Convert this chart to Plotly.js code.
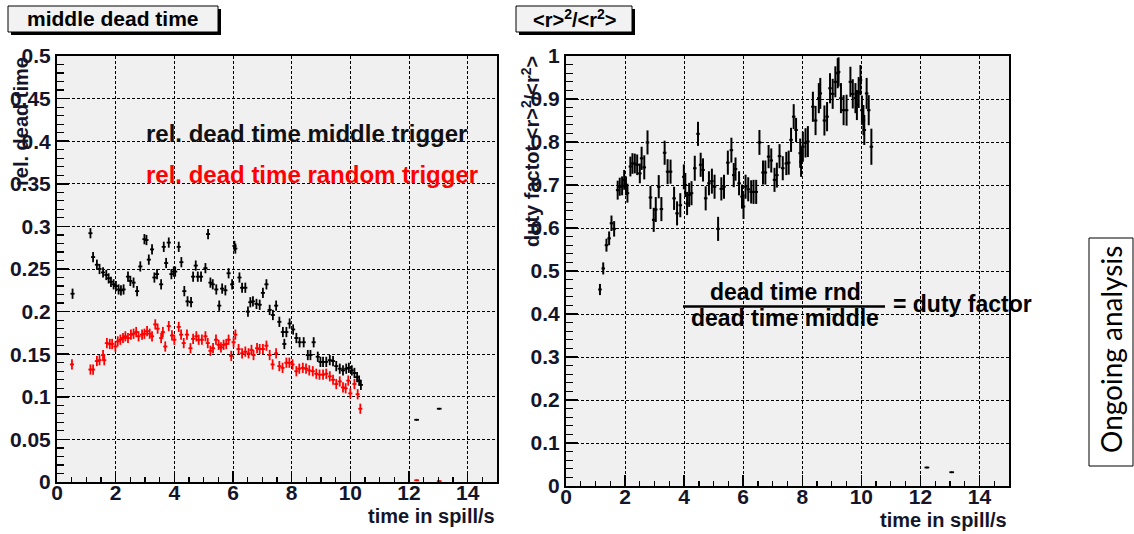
<!DOCTYPE html>
<html>
<head>
<meta charset="utf-8">
<script src="https://cdn.plot.ly/plotly-3.0.1.min.js"></script>
<style>
  html, body { margin: 0; padding: 0; background: #ffffff; }
  #chart { width: 1134px; height: 534px; }
</style>
</head>
<body>
<div id="chart"></div>
<script>
// Relative dead time, middle trigger (black)
const midX = [0.53,1.14,1.23,1.36,1.45,1.57,1.68,1.76,1.84,1.93,2.01,2.10,2.18,2.27,2.42,2.50,2.61,2.73,2.84,2.98,3.05,3.13,3.24,3.32,3.41,3.55,3.64,3.72,3.81,3.90,3.98,4.03,4.15,4.24,4.34,4.45,4.57,4.64,4.73,4.80,4.91,5.06,5.15,5.23,5.31,5.43,5.53,5.63,5.74,5.85,5.97,6.05,6.08,6.22,6.31,6.42,6.51,6.59,6.68,6.80,6.91,7.02,7.14,7.25,7.36,7.47,7.58,7.70,7.75,7.82,7.93,8.05,8.16,8.27,8.41,8.55,8.64,8.75,8.89,8.98,9.07,9.18,9.30,9.41,9.52,9.64,9.75,9.86,9.95,10.05,10.14,10.23,10.30,10.36];
const midY = [0.221,0.292,0.264,0.255,0.250,0.246,0.243,0.239,0.235,0.232,0.230,0.226,0.225,0.226,0.241,0.236,0.234,0.224,0.253,0.285,0.284,0.261,0.273,0.240,0.244,0.232,0.276,0.257,0.281,0.244,0.247,0.247,0.276,0.258,0.224,0.212,0.211,0.241,0.254,0.241,0.241,0.251,0.291,0.234,0.232,0.226,0.207,0.227,0.225,0.245,0.232,0.277,0.274,0.240,0.228,0.228,0.200,0.211,0.212,0.209,0.208,0.222,0.232,0.202,0.196,0.207,0.188,0.176,0.162,0.176,0.186,0.179,0.169,0.164,0.164,0.149,0.149,0.164,0.147,0.141,0.141,0.141,0.143,0.142,0.136,0.133,0.131,0.133,0.134,0.131,0.128,0.123,0.119,0.114];
const midTailX = [12.26, 13.03];
const midTailY = [0.073, 0.086];

// Relative dead time, random trigger (red)
const rndX = [0.51,1.14,1.23,1.36,1.45,1.57,1.61,1.70,1.80,1.88,1.99,2.07,2.16,2.25,2.33,2.42,2.52,2.61,2.70,2.78,2.90,2.98,3.07,3.16,3.24,3.35,3.43,3.55,3.61,3.69,3.81,3.92,4.00,4.15,4.23,4.32,4.43,4.55,4.64,4.75,4.83,4.94,5.06,5.14,5.23,5.32,5.42,5.51,5.59,5.68,5.77,5.85,5.94,6.02,6.08,6.19,6.31,6.42,6.53,6.63,6.70,6.82,6.91,7.02,7.14,7.25,7.35,7.47,7.58,7.69,7.82,7.92,8.03,8.16,8.26,8.38,8.49,8.60,8.72,8.84,8.95,9.07,9.18,9.30,9.41,9.52,9.64,9.75,9.84,9.93,10.00,10.14,10.25,10.34];
const rndY = [0.138,0.132,0.132,0.142,0.143,0.149,0.143,0.163,0.162,0.162,0.159,0.165,0.167,0.169,0.171,0.169,0.173,0.174,0.176,0.171,0.173,0.174,0.177,0.174,0.171,0.185,0.180,0.169,0.176,0.159,0.183,0.172,0.167,0.182,0.173,0.163,0.173,0.157,0.168,0.171,0.167,0.167,0.171,0.163,0.154,0.157,0.167,0.161,0.158,0.161,0.162,0.167,0.148,0.164,0.173,0.156,0.151,0.153,0.151,0.155,0.149,0.157,0.156,0.156,0.160,0.149,0.138,0.151,0.136,0.134,0.140,0.140,0.138,0.130,0.133,0.134,0.133,0.131,0.130,0.127,0.126,0.126,0.127,0.124,0.120,0.115,0.118,0.111,0.110,0.119,0.104,0.115,0.103,0.086];
const rndTailX = [12.26, 13.03];
const rndTailY = [0.002, 0.001];

// Duty factor <r>^2/<r^2>
const dutyX = [1.15,1.26,1.37,1.46,1.54,1.63,1.75,1.82,1.90,1.97,2.03,2.08,2.18,2.25,2.33,2.41,2.50,2.56,2.65,2.76,2.86,2.97,3.04,3.14,3.23,3.34,3.44,3.54,3.66,3.76,3.87,3.99,4.04,4.10,4.17,4.25,4.36,4.47,4.56,4.64,4.73,4.84,4.94,5.03,5.15,5.26,5.35,5.48,5.60,5.68,5.74,5.86,5.96,6.01,6.08,6.17,6.27,6.35,6.44,6.55,6.67,6.75,6.86,6.95,7.06,7.14,7.23,7.34,7.46,7.54,7.62,7.71,7.79,7.93,7.96,8.02,8.11,8.19,8.36,8.45,8.56,8.61,8.75,8.84,8.94,9.03,9.12,9.20,9.23,9.31,9.40,9.50,9.63,9.71,9.80,9.85,9.91,9.97,10.02,10.07,10.10,10.18,10.25,10.34];
const dutyY = [0.457,0.506,0.560,0.576,0.611,0.598,0.688,0.696,0.698,0.712,0.698,0.681,0.743,0.750,0.750,0.747,0.727,0.762,0.741,0.799,0.671,0.619,0.643,0.696,0.644,0.775,0.731,0.731,0.669,0.634,0.653,0.719,0.700,0.657,0.677,0.681,0.739,0.819,0.747,0.735,0.669,0.704,0.709,0.696,0.598,0.691,0.696,0.752,0.781,0.723,0.737,0.704,0.673,0.650,0.696,0.690,0.684,0.684,0.684,0.799,0.729,0.729,0.766,0.757,0.712,0.723,0.767,0.739,0.750,0.752,0.805,0.859,0.828,0.774,0.754,0.789,0.798,0.801,0.882,0.850,0.902,0.913,0.850,0.859,0.925,0.912,0.940,0.960,0.963,0.902,0.874,0.874,0.940,0.912,0.902,0.886,0.915,0.944,0.874,0.851,0.828,0.913,0.874,0.789];
const dutyErr = [0.013,0.014,0.015,0.016,0.018,0.018,
  0.022,0.021,0.022,0.023,0.022,0.022,0.023,0.024,0.023,0.024,0.023,
  0.027,0.028,0.028,0.027,0.028,0.029,0.027,0.028,0.028,0.029,0.028,0.027,0.028,0.028,0.029,0.028,0.027,0.028,0.028,0.029,0.028,0.028,0.027,0.028,0.028,0.029,0.028,0.028,0.027,0.028,0.028,0.029,0.028,0.027,0.028,0.028,0.029,0.028,0.028,0.027,0.028,0.028,0.029,0.028,0.028,0.027,0.028,0.028,0.029,0.028,0.028,0.027,0.028,0.028,0.029,0.028,
  0.034,0.035,0.035,0.034,0.036,0.035,0.034,0.035,0.036,0.035,0.034,0.035,0.035,0.036,0.035,0.034,0.035,0.035,0.036,0.035,0.034,0.035,0.035,0.036,0.035,0.034,0.035,0.035,0.036,0.035,
  0.042];
const dutyTailX = [12.22, 13.06];
const dutyTailY = [0.043, 0.032];

const W = 1134, H = 534;
const fx = p => p / W;          // pixel column -> paper fraction
const fy = p => 1 - p / H;      // pixel row -> paper fraction

const FONT = 'Liberation Sans, Arial, Helvetica, sans-serif';
const INK = '#15152a';

function errTrace(x, y, color, ex, ey, xa, ya, thick) {
  return {
    type: 'scatter', mode: 'markers', x: x, y: y, xaxis: xa, yaxis: ya,
    marker: { size: 2, color: color },
    error_x: { type: 'constant', value: ex, width: 0, thickness: thick, color: color },
    error_y: Array.isArray(ey)
      ? { type: 'data', array: ey, visible: true, width: 0, thickness: thick, color: color }
      : { type: 'constant', value: ey, width: 0, thickness: thick, color: color },
    hoverinfo: 'skip', showlegend: false
  };
}

const data = [
  errTrace(midX, midY, '#000000', 0.07, 0.006, 'x', 'y', 1.8),
  errTrace(midTailX, midTailY, '#000000', 0.08, 0, 'x', 'y', 1.8),
  errTrace(rndX, rndY, '#ff0000', 0.07, 0.006, 'x', 'y', 1.8),
  errTrace(rndTailX, rndTailY, '#ff0000', 0.08, 0, 'x', 'y', 1.8),
  errTrace(dutyX, dutyY, '#000000', 0.06, dutyErr, 'x2', 'y2', 2),
  errTrace(dutyTailX, dutyTailY, '#000000', 0.08, 0, 'x2', 'y2', 1.8)
];

function xAxis(domain, anchor) {
  return {
    domain: domain, anchor: anchor, range: [0, 15], tick0: 0, dtick: 2,
    ticks: 'inside', ticklen: 11, tickwidth: 1.5, tickcolor: '#000',
    minor: { dtick: 0.5, ticks: 'inside', ticklen: 5, tickwidth: 1.2, tickcolor: '#000', showgrid: false },
    showgrid: true, gridcolor: '#000', gridwidth: 1, griddash: '3px,2px',
    showline: true, mirror: true, linecolor: '#000', linewidth: 2,
    zeroline: false, fixedrange: true, ticklabelstandoff: -9,
    tickfont: { family: FONT, size: 21, weight: 'bold', color: INK }
  };
}
function yAxis(domain, anchor, top, major, minorStep) {
  return {
    domain: domain, anchor: anchor, range: [0, top], tick0: 0, dtick: major,
    ticks: 'inside', ticklen: 12, tickwidth: 1.5, tickcolor: '#000',
    minor: { dtick: minorStep, ticks: 'inside', ticklen: 7, tickwidth: 1.2, tickcolor: '#000', showgrid: false },
    showgrid: true, gridcolor: '#000', gridwidth: 1, griddash: '3px,2px',
    showline: true, mirror: true, linecolor: '#000', linewidth: 2,
    zeroline: false, fixedrange: true,
    tickfont: { family: FONT, size: 21, weight: 'bold', color: INK }
  };
}

const titleFont = { family: FONT, size: 20, weight: 'bold', color: INK };

const annotations = [
  // pad titles
  { xref: 'paper', yref: 'paper', x: fx(113), y: fy(19), xanchor: 'center', yanchor: 'middle',
    text: 'middle dead time', showarrow: false, font: { family: FONT, size: 21, weight: 'bold', color: '#000' } },
  { xref: 'paper', yref: 'paper', x: fx(574), y: fy(19), xanchor: 'center', yanchor: 'middle',
    text: '&lt;r&gt;<sup>2</sup>/&lt;r<sup>2</sup>&gt;', showarrow: false, font: { family: FONT, size: 20, weight: 'bold', color: '#000' } },
  // axis titles
  { xref: 'paper', yref: 'paper', x: fx(497), y: fy(516), xanchor: 'right', yanchor: 'middle',
    text: 'time in spill/s', showarrow: false, font: titleFont },
  { xref: 'paper', yref: 'paper', x: fx(1009), y: fy(520), xanchor: 'right', yanchor: 'middle',
    text: 'time in spill/s', showarrow: false, font: titleFont },
  { xref: 'paper', yref: 'paper', x: fx(21), y: fy(122), xanchor: 'center', yanchor: 'middle', textangle: -90,
    text: 'rel. dead time', showarrow: false, font: titleFont },
  { xref: 'paper', yref: 'paper', x: fx(530), y: fy(152), xanchor: 'center', yanchor: 'middle', textangle: -90,
    text: 'duty factot &lt;r&gt;<sup>2</sup>/&lt;r<sup>2</sup>&gt;', showarrow: false, font: titleFont },
  // key text
  { xref: 'paper', yref: 'paper', x: fx(144), y: fy(133), xanchor: 'left', yanchor: 'middle',
    text: 'rel. dead time middle trigger', showarrow: false, font: { family: FONT, size: 24, weight: 'bold', color: '#111' } },
  { xref: 'paper', yref: 'paper', x: fx(144), y: fy(174), xanchor: 'left', yanchor: 'middle',
    text: 'rel. dead time random trigger', showarrow: false, font: { family: FONT, size: 24, weight: 'bold', color: '#ff0000' } },
  // ratio definition
  { xref: 'paper', yref: 'paper', x: fx(785), y: fy(292), xanchor: 'center', yanchor: 'middle',
    text: 'dead time rnd', showarrow: false, font: { family: FONT, size: 23, weight: 'bold', color: '#000' } },
  { xref: 'paper', yref: 'paper', x: fx(785), y: fy(318), xanchor: 'center', yanchor: 'middle',
    text: 'dead time middle', showarrow: false, font: { family: FONT, size: 23, weight: 'bold', color: '#000' } },
  { xref: 'paper', yref: 'paper', x: fx(891), y: fy(304), xanchor: 'left', yanchor: 'middle',
    text: '= duty factor', showarrow: false, font: { family: FONT, size: 23, weight: 'bold', color: '#000' } },
  // side note
  { xref: 'paper', yref: 'paper', x: fx(1111), y: fy(350), xanchor: 'center', yanchor: 'middle', textangle: -90,
    text: 'Ongoing analysis', showarrow: false, font: { family: 'Lato, Noto Sans, sans-serif', size: 28, color: '#000' } }
];

const shapes = [
  // title pads with drop shadow
  { type: 'rect', xref: 'paper', yref: 'paper', x0: fx(11), x1: fx(221), y0: fy(9), y1: fy(35), fillcolor: '#000', line: { width: 0 } },
  { type: 'rect', xref: 'paper', yref: 'paper', x0: fx(8), x1: fx(218), y0: fy(6), y1: fy(32), fillcolor: '#f2f2f2', line: { color: '#000', width: 1 } },
  { type: 'rect', xref: 'paper', yref: 'paper', x0: fx(519), x1: fx(635), y0: fy(9), y1: fy(35), fillcolor: '#000', line: { width: 0 } },
  { type: 'rect', xref: 'paper', yref: 'paper', x0: fx(516), x1: fx(632), y0: fy(6), y1: fy(32), fillcolor: '#f2f2f2', line: { color: '#000', width: 1 } },
  // fraction bar
  { type: 'line', xref: 'paper', yref: 'paper', x0: fx(683), x1: fx(885), y0: fy(306.5), y1: fy(306.5), line: { color: '#000', width: 2.5 } },
  // side note frame
  { type: 'rect', xref: 'paper', yref: 'paper', x0: fx(1089), x1: fx(1133), y0: fy(238), y1: fy(466), fillcolor: 'rgba(0,0,0,0)', line: { color: '#000', width: 1 } }
];

const layout = {
  width: W, height: H,
  margin: { l: 0, r: 0, t: 0, b: 0, pad: 0 },
  paper_bgcolor: '#ffffff',
  plot_bgcolor: '#f0f0f0',
  showlegend: false,
  xaxis: xAxis([fx(57), fx(497)], 'y'),
  yaxis: yAxis([fy(482), fy(56)], 'x', 0.5, 0.05, 0.01),
  xaxis2: xAxis([fx(566), fx(1009)], 'y2'),
  yaxis2: yAxis([fy(486), fy(56)], 'x2', 1, 0.1, 0.02),
  annotations: annotations,
  shapes: shapes
};

Plotly.newPlot('chart', data, layout, { staticPlot: true, displayModeBar: false });
</script>
</body>
</html>
